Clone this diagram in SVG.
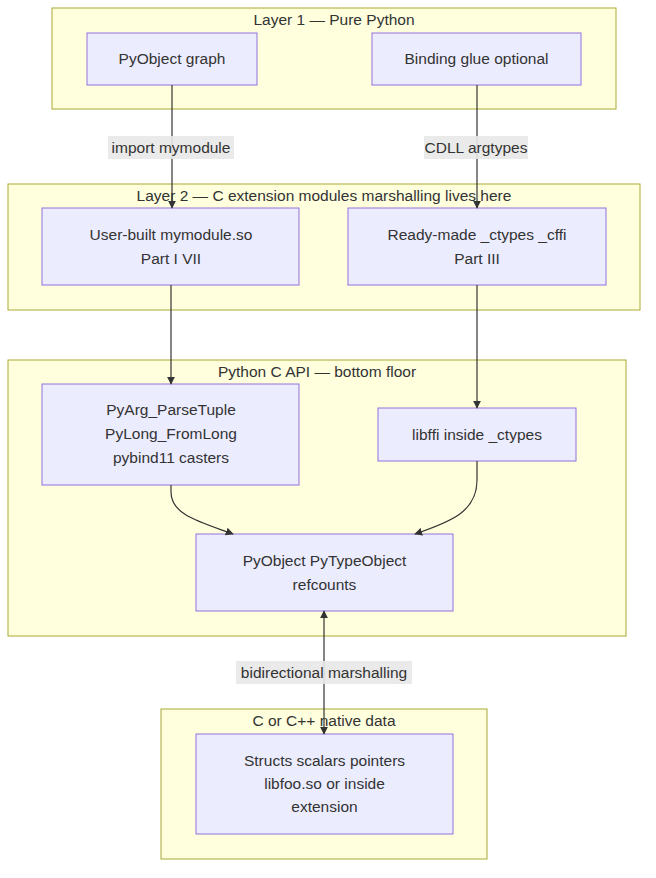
<svg xmlns="http://www.w3.org/2000/svg" width="656" height="878" viewBox="0 0 656 878">
<style>
.cl{fill:#ffffde;stroke:#aaaa33;stroke-width:1}
.nd{fill:#ececff;stroke:#9370db;stroke-width:1}
text{font-family:"Liberation Sans",Arial,sans-serif;font-size:15.5px;fill:#333;text-anchor:middle}
.e{fill:none;stroke:#333;stroke-width:1.2}
.lb{fill:#e8e8e8;opacity:0.9}
</style>
<defs>
<marker id="ah" viewBox="0 0 10 10" refX="9" refY="5" markerWidth="8" markerHeight="8" markerUnits="userSpaceOnUse" orient="auto"><path d="M0,0L10,5L0,10z" fill="#333"/></marker>
<marker id="as" viewBox="0 0 10 10" refX="1" refY="5" markerWidth="8" markerHeight="8" markerUnits="userSpaceOnUse" orient="auto"><path d="M10,0L0,5L10,10z" fill="#333"/></marker>
</defs>
<g id="cluster-layer1"><rect class="cl" x="52" y="8" width="564" height="101"/><text x="334" y="25">Layer 1 — Pure Python</text></g>
<g id="cluster-layer2"><rect class="cl" x="8" y="184" width="632" height="126"/><text x="324" y="201">Layer 2 — C extension modules marshalling lives here</text></g>
<g id="cluster-capi"><rect class="cl" x="8" y="360" width="618" height="276"/><text x="317" y="377">Python C API — bottom floor</text></g>
<g id="cluster-native"><rect class="cl" x="161" y="709" width="326" height="150"/><text x="324" y="726">C or C++ native data</text></g>

<g id="n-pyobj"><rect class="nd" x="87" y="33" width="170" height="52"/><text x="172" y="64">PyObject graph</text></g>
<g id="n-glue"><rect class="nd" x="372" y="33" width="209" height="52"/><text x="476.5" y="64">Binding glue optional</text></g>
<g id="n-user"><rect class="nd" x="42" y="208" width="257" height="77"/><text x="171" y="240">User-built mymodule.so</text><text x="171" y="264">Part I VII</text></g>
<g id="n-ready"><rect class="nd" x="348" y="208" width="258" height="77"/><text x="477" y="240">Ready-made _ctypes _cffi</text><text x="477" y="264">Part III</text></g>
<g id="n-pyarg"><rect class="nd" x="42" y="384" width="257" height="101"/><text x="171" y="415">PyArg_ParseTuple</text><text x="171" y="439">PyLong_FromLong</text><text x="171" y="463">pybind11 casters</text></g>
<g id="n-libffi"><rect class="nd" x="378" y="408" width="198" height="53"/><text x="477" y="440">libffi inside _ctypes</text></g>
<g id="n-pytype"><rect class="nd" x="196" y="534" width="257" height="77"/><text x="324.5" y="566">PyObject PyTypeObject</text><text x="324.5" y="590">refcounts</text></g>
<g id="n-structs"><rect class="nd" x="196" y="734" width="257" height="100"/><text x="324.5" y="766">Structs scalars pointers</text><text x="324.5" y="789">libfoo.so or inside</text><text x="324.5" y="812">extension</text></g>

<g id="connectors">
<path class="e" d="M172,85V208" marker-end="url(#ah)"/>
<path class="e" d="M477,85V208" marker-end="url(#ah)"/>
<path class="e" d="M171,285V384" marker-end="url(#ah)"/>
<path class="e" d="M477,285V408" marker-end="url(#ah)"/>
<path class="e" d="M171,485V492C171,515 200,522 233,534" marker-end="url(#ah)"/>
<path class="e" d="M477,461V480C477,512 450,522 415,534" marker-end="url(#ah)"/>
<path class="e" d="M324,611V734" marker-start="url(#as)" marker-end="url(#ah)"/>
<rect class="lb" x="108" y="136" width="126" height="23"/><text x="171" y="153">import mymodule</text>
<rect class="lb" x="424" y="136" width="104" height="23"/><text x="476" y="153">CDLL argtypes</text>
<rect class="lb" x="236" y="661" width="176" height="23"/><text x="324" y="678">bidirectional marshalling</text>
</g>
</svg>
